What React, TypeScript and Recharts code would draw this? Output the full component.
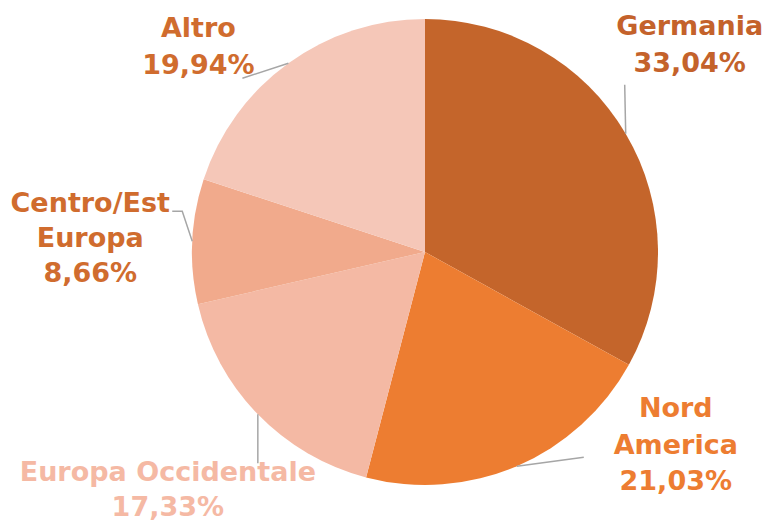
import React from 'react';
import { PieChart, Pie, Cell } from 'recharts';

const categories = ['Germania', 'Nord America', 'Europa Occidentale', 'Centro/Est Europa', 'Altro'];
const shares = [33.04, 21.03, 17.33, 8.66, 19.94];
const percentLabels = ['33,04%', '21,03%', '17,33%', '8,66%', '19,94%'];
const nameLines = [['Germania'], ['Nord', 'America'], ['Europa Occidentale'], ['Centro/Est', 'Europa'], ['Altro']];

const sliceColors = ['#C4652B', '#ED7D31', '#F4B9A4', '#F1AA8C', '#F5C7B8'];
const labelColors = ['#C4622B', '#ED7D31', '#F5B9A4', '#D06C2E', '#D06C2E'];

const data = categories.map((name, i) => ({ name, value: shares[i] }));

// leader line points (relative to slice edge at mid angle) and text anchor offsets
const layout = [
  { path: [[0, 0], [-1, -49]], tx: 64, ty: -99, lh: 37 },
  { path: [[0, 0], [67, -9]], tx: 159, ty: -49, lh: 36.5 },
  { path: [[0, 0], [0, 49]], tx: -90, ty: 67, lh: 35 },
  { path: [[0, 0], [-10, -30], [-20, -30]], tx: -102, ty: -29, lh: 35 },
  { path: [[0, 0], [-46, 15]], tx: -90, ty: -26, lh: 37 },
];

const RAD = Math.PI / 180;

const renderLabel = (props: any) => {
  const { cx, cy, midAngle, outerRadius, index } = props;
  const ex = cx + outerRadius * Math.cos(-midAngle * RAD);
  const ey = cy + outerRadius * Math.sin(-midAngle * RAD);
  const l = layout[index];
  const d = l.path.map((p, i) => `${i === 0 ? 'M' : 'L'}${ex + p[0]},${ey + p[1]}`).join(' ');
  const lines = [...nameLines[index], percentLabels[index]];
  return (
    <g key={`lbl-${index}`}>
      <path d={d} stroke="#A6A6A6" strokeWidth={1.5} fill="none" />
      <text
        x={ex + l.tx}
        y={ey + l.ty}
        textAnchor="middle"
        fill={labelColors[index]}
        fontFamily="'DejaVu Sans', sans-serif"
        fontWeight="bold"
        fontSize={27}
      >
        {lines.map((t, i) => (
          <tspan key={i} x={ex + l.tx} y={ey + l.ty + i * l.lh}>
            {t}
          </tspan>
        ))}
      </text>
    </g>
  );
};

export default function App() {
  return (
    <div style={{ position: 'absolute', left: 0, top: 0, width: 767, height: 522, background: '#fff' }}>
      <PieChart width={767} height={522} margin={{ top: 0, right: 0, bottom: 0, left: 0 }}>
        <Pie
          data={data}
          dataKey="value"
          nameKey="name"
          cx={425}
          cy={252}
          outerRadius={233}
          startAngle={90}
          endAngle={-270}
          stroke="none"
          label={renderLabel}
          labelLine={false}
          isAnimationActive={false}
        >
          {data.map((d, i) => (
            <Cell key={d.name} fill={sliceColors[i]} />
          ))}
        </Pie>
      </PieChart>
    </div>
  );
}
